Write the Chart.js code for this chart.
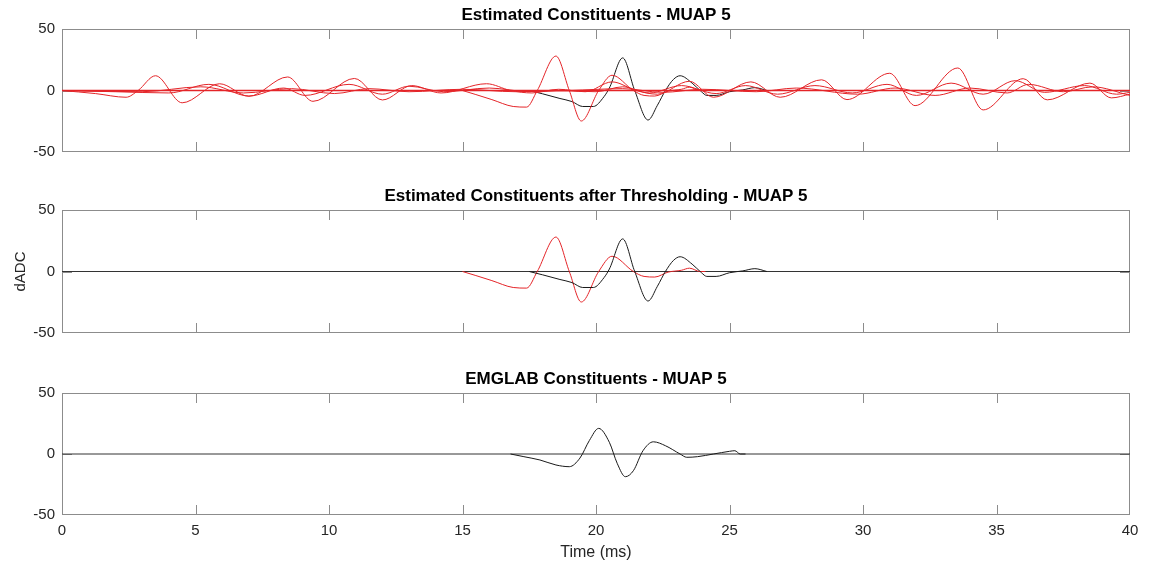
<!DOCTYPE html>
<html>
<head>
<meta charset="utf-8">
<script src="https://cdn.jsdelivr.net/npm/chart.js@4.4.0/dist/chart.umd.min.js"></script>
<style>
  body { margin: 0; background: #fff; }
  .panel { position: absolute; left: 0; width: 1149px; }
</style>
</head>
<body>
<div class="panel" style="top:0;height:168px"><canvas id="c1"></canvas></div>
<div class="panel" style="top:181px;height:168px"><canvas id="c2"></canvas></div>
<div class="panel" style="top:364px;height:203px"><canvas id="c3"></canvas></div>
<script>
// axis ticks
var xTicks = [0, 5, 10, 15, 20, 25, 30, 35, 40];
var yTicks = [-50, 0, 50];

// zero line (start / end time, ms)
var zeroT = [0, 40];
var zeroY = [0, 0];

// estimated constituents - large periodic red trace
var red1T = [0, 1.25, 2.4, 2.85, 3.5, 4.5, 5.9, 7.0, 8.45, 9.4, 10.95, 12.0, 13.1, 14.2, 15.9, 16.8, 17.6, 18.6, 19.6, 20.6, 21.5, 22.3, 23.5, 24.4, 25.8, 26.9, 28.45, 29.4, 31.0, 31.95, 33.55, 34.5, 36.0, 36.9, 38.5, 39.3, 40];
var red1Y = [0, -2.5, -5.5, 0, 12, -10, 5.5, -4.7, 11, -8.8, 9.8, -7.7, 4, -2, 5.5, 0, -2, 1, -1, 7, 0, -3, 7.5, -5.5, 7, -5.5, 8.7, -7.4, 14, -12.3, 18.3, -15.8, 9.6, -7.6, 6, -6, -3];

// smaller red traces
var red3T = [0, 2, 4, 5.5, 7, 8.3, 9.1, 10.75, 12, 13, 14.3, 16, 17.5, 18.5, 20, 21, 22, 23.2, 24.5, 25.6, 26.8, 28.2, 29.6, 30.9, 32, 33.3, 34.5, 35.7, 36.8, 38.3, 39.5, 40];
var red3Y = [0, -1, -2, 5, -4.5, 2, -4, 5, -3, 3.5, -1, 2, -1, 0, -1, 3, -2, 4, -2.5, 4, -3, 4, -2, 5, -4, 6, -3, 8, -1.5, 4, -3, -1.5];
var red4T = [0, 3, 5.2, 6.8, 8.6, 10.2, 11.5, 13, 15, 17, 19, 21, 22.5, 24, 26, 27.5, 29.8, 31.2, 32.7, 34, 35.4, 36.2, 37.5, 38.6, 40];
var red4Y = [0, -1, 3, -2, 1.5, -2.5, 1.5, -1, 1, -1, 0, 1.5, -1.5, 1, -1, 2, -3, 2, -4, 2, -2, 5, -1, 3, -4];

// thresholded red constituent
var muapRedT = [15, 15.5, 16.1, 16.9, 17.4, 17.8, 18.5, 19.0, 19.45, 20.1, 20.6, 21.4, 21.8, 22.2, 22.7, 23.2, 23.5, 23.9, 24.1];
var muapRedY = [0, -3.3, -7.4, -13, -13.5, 0, 28, 0, -24.8, 0, 12.4, 0, -4, -4.5, -0.5, 1, 2.7, 0, 0];

// thresholded black constituent
var muapBlackT = [17.5, 18.0, 18.65, 19.1, 19.5, 19.9, 20.3, 20.5, 21.0, 21.45, 21.95, 22.3, 22.6, 22.9, 23.15, 23.6, 23.95, 24.15, 24.5, 25.0, 25.5, 25.95, 26.4];
var muapBlackY = [0, -2.7, -6.5, -9, -13, -13, -5, 2, 26.5, 0, -24, -12, 0, 9, 12, 6, -1, -4, -4, -1, 0.5, 2.3, 0];

// EMGLAB constituent
var emgT = [16.8, 17.3, 17.9, 18.5, 19.0, 19.4, 19.75, 20.1, 20.5, 20.8, 21.1, 21.4, 21.76, 22.15, 22.6, 23.15, 23.4, 23.8, 24.4, 25.0, 25.2, 25.4, 25.6];
var emgY = [0, -2.2, -4.9, -9, -10.4, -3.3, 11, 21, 9.6, -8, -18.6, -13.7, 2.7, 10, 6.8, 0, -2.7, -2.2, 0, 2.2, 2.7, 0, 0];

var RED = 'rgb(228,36,40)';
var BLACK = 'rgb(25,25,25)';
var FONT = "'Liberation Sans', Arial, sans-serif";

function pts(t, y) {
    return t.map(function (v, i) { return {x: v, y: y[i]}; });
}

function line(t, y, color, w) {
    return {
        data: pts(t, y),
        borderColor: color,
        borderWidth: w || 1,
        pointRadius: 0,
        fill: false,
        cubicInterpolationMode: 'monotone'
    };
}

// matlab style box with inward ticks (end ticks sit on the box itself)
var boxTicks = {
    id: 'boxTicks',
    beforeDatasetsDraw: function (chart) {
        var ctx = chart.ctx, a = chart.chartArea;
        var x = chart.scales.x, y = chart.scales.y;
        ctx.save();
        ctx.strokeStyle = '#8c8c8c';
        ctx.lineWidth = 1;
        ctx.strokeRect(a.left + 0.5, a.top + 0.5, a.right - a.left - 1, a.bottom - a.top - 1);
        ctx.beginPath();
        xTicks.slice(1, -1).forEach(function (v) {
            var px = Math.round(x.getPixelForValue(v)) + 0.5;
            ctx.moveTo(px, a.bottom); ctx.lineTo(px, a.bottom - 10);
            ctx.moveTo(px, a.top); ctx.lineTo(px, a.top + 10);
        });
        yTicks.slice(1, -1).forEach(function (v) {
            var py = Math.round(y.getPixelForValue(v)) + 0.5;
            ctx.moveTo(a.left, py); ctx.lineTo(a.left + 10, py);
            ctx.moveTo(a.right, py); ctx.lineTo(a.right - 10, py);
        });
        ctx.stroke();
        ctx.restore();
    }
};

function panel(id, title, datasets, showX, yTitle) {
    return new Chart(document.getElementById(id), {
        type: 'line',
        data: {datasets: datasets},
        plugins: [boxTicks],
        options: {
            responsive: true,
            maintainAspectRatio: false,
            animation: false,
            layout: {padding: {left: 0, right: 19, top: 0, bottom: 0}},
            plugins: {
                legend: {display: false},
                tooltip: {enabled: false},
                title: {
                    display: true,
                    text: title,
                    fullSize: false,
                    color: '#000',
                    font: {family: FONT, size: 17, weight: 'bold'},
                    padding: {top: 5.5, bottom: 3.1}
                }
            },
            scales: {
                x: {
                    type: 'linear',
                    min: 0,
                    max: 40,
                    display: showX,
                    grid: {display: false, drawTicks: false},
                    border: {display: false},
                    ticks: {stepSize: 5, padding: 7, color: '#262626', font: {family: FONT, size: 15}},
                    title: {display: true, text: 'Time (ms)', color: '#262626', font: {family: FONT, size: 16}, padding: {top: 0, bottom: 5}},
                    afterFit: function (s) { s.height = showX ? 52 : 0; }
                },
                y: {
                    min: -50,
                    max: 50,
                    grid: {display: false, drawTicks: false},
                    border: {display: false},
                    ticks: {stepSize: 50, padding: 7, color: '#262626', font: {family: FONT, size: 15}},
                    title: {display: !!yTitle, text: yTitle || '', color: '#262626', font: {family: FONT, size: 15}, padding: {top: 12, bottom: 0}},
                    afterFit: function (s) { s.width = 62; }
                }
            }
        }
    });
}

panel('c1', 'Estimated Constituents - MUAP 5', [
    line(red1T, red1Y, RED),
    line(muapRedT, muapRedY, RED),
    line(red3T, red3Y, RED),
    line(red4T, red4Y, RED),
    line(zeroT, zeroY, RED, 1.4),
    line(muapBlackT, muapBlackY, BLACK)
], false);

panel('c2', 'Estimated Constituents after Thresholding - MUAP 5', [
    line(muapBlackT, muapBlackY, BLACK),
    line(muapRedT, muapRedY, RED),
    line(zeroT, zeroY, '#333333')
], false, 'dADC');

panel('c3', 'EMGLAB Constituents - MUAP 5', [
    line(emgT, emgY, BLACK),
    line(zeroT, zeroY, '#333333')
], true);
</script>
</body>
</html>
